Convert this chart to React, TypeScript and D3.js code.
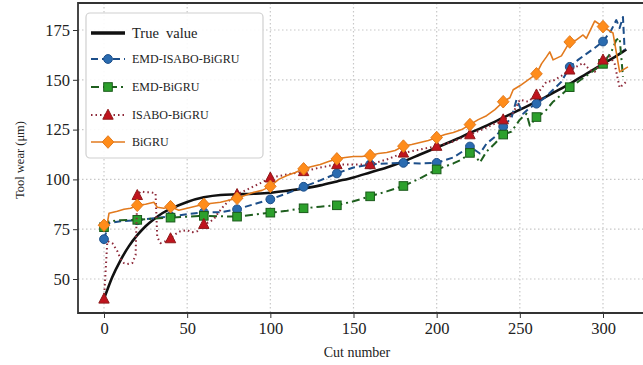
import React, { useEffect, useRef } from "react";
import * as d3 from "d3";

// ---- data ----
const xTicks = [0, 50, 100, 150, 200, 250, 300];
const yTicks = [50, 75, 100, 125, 150, 175];

const trueCuts = [0, 5, 10, 15, 20, 25, 30, 35, 40, 50, 60, 70, 80, 90, 100, 110, 120, 130, 140, 150, 160, 170, 180, 190, 200, 210, 220, 230, 240, 250, 260, 270, 280, 290, 300, 310, 314];
const trueVals = [40, 51, 59.5, 66.5, 72, 76.5, 80, 83, 85.2, 88.7, 91, 92.2, 92.5, 92.8, 93.3, 94.3, 95.5, 97, 99, 101, 103.5, 106, 109, 112.5, 116, 119.5, 123.3, 127, 131, 135, 139, 143.5, 148, 153, 158, 163, 165.3];

const emdIsaboCuts = [0, 3, 10, 20, 30, 40, 50, 60, 70, 80, 90, 100, 110, 120, 130, 140, 150, 160, 170, 180, 190, 200, 210, 220, 226, 230, 236, 240, 245, 248, 252, 256, 260, 265, 270, 275, 280, 285, 290, 295, 300, 305, 308, 310, 312, 313];
const emdIsaboVals = [70, 78, 79, 79.5, 80.5, 81.5, 82.5, 83.5, 83.5, 85, 87.5, 90, 93, 96.3, 99.5, 103, 106, 107.5, 108, 108.3, 108, 108.3, 111, 116.5, 113, 118, 122, 126.5, 131, 140, 133, 136, 138, 141, 145, 149, 156.5, 160, 163, 166, 169.2, 175, 180, 176, 181.5, 165];

const emdCuts = [0, 3, 10, 20, 30, 40, 50, 60, 70, 80, 90, 100, 110, 120, 130, 140, 150, 160, 170, 180, 190, 200, 210, 215, 220, 224, 226, 230, 235, 240, 245, 250, 254, 256, 260, 265, 270, 275, 280, 285, 290, 295, 300, 305, 308, 310, 312];
const emdVals = [76, 79, 79.5, 79.7, 80.3, 80.8, 81.3, 81.7, 81.5, 81.3, 82.3, 83.3, 84.3, 85.5, 86.3, 87, 89, 91.5, 94, 96.7, 100.5, 105, 108, 110, 113.3, 111, 108.5, 114, 118, 122.5, 124, 130, 133, 127, 131.3, 134, 139, 142.5, 146.3, 149, 152, 155, 158, 164, 170, 171, 151.5];

const isaboCuts = [0, 2, 5, 8, 10, 12, 14, 17, 19, 20, 22, 25, 28, 31, 32, 34, 37, 40, 43, 46, 50, 53, 56, 60, 63, 66, 68, 72, 76, 80, 85, 90, 95, 100, 110, 120, 130, 140, 150, 160, 170, 180, 190, 200, 210, 220, 230, 240, 245, 250, 255, 260, 266, 270, 275, 280, 285, 288, 292, 295, 300, 304, 307, 310, 314];
const isaboVals = [40, 69, 68, 64, 60, 58, 57.5, 58, 62, 92, 94, 93.5, 93.5, 93, 71, 68, 69, 70.3, 72.5, 74, 74.5, 73.5, 74, 77.5, 78.5, 80, 82.5, 86.7, 90, 92.5, 94.5, 96.5, 98.5, 100.8, 102.5, 104, 106, 107.5, 107.5, 107.5, 110, 113.3, 115, 116.7, 119, 122.5, 126, 130, 132, 140, 139, 142.5, 149, 149.5, 152, 155, 157, 158.5, 155, 154, 160, 162, 158, 146, 149];

const bigruCuts = [0, 2, 3, 8, 12, 16, 20, 25, 30, 32, 36, 40, 45, 50, 55, 60, 65, 70, 75, 80, 85, 90, 95, 100, 105, 110, 115, 120, 125, 130, 135, 140, 145, 150, 155, 160, 165, 170, 175, 180, 185, 190, 195, 200, 205, 210, 215, 220, 225, 230, 235, 240, 244, 246, 250, 255, 260, 263, 266, 268, 270, 275, 280, 284, 288, 290, 295, 300, 306, 310, 315];
const bigruVals = [77, 78, 83, 84, 85, 85.5, 87, 87.5, 88.5, 86, 85.5, 86.3, 84.5, 85.5, 86.5, 87.5, 88, 88.5, 89.5, 90.5, 92, 93.5, 94.5, 96.5, 100, 102, 103.5, 105.3, 106.5, 107.5, 109, 110.3, 111, 111.5, 111.5, 112, 113, 113.5, 114.5, 116.7, 117.5, 118.5, 119.5, 121, 122.5, 123.5, 125, 127.5, 130, 132, 135, 139, 141, 145, 147, 150, 153, 158, 161.5, 164, 160, 162, 169, 170, 172.5, 170.8, 179.5, 176.7, 173.5, 154, 156.5];

const seriesNames = ["True  value", "EMD-ISABO-BiGRU", "EMD-BiGRU", "ISABO-BiGRU", "BiGRU"];

const W = 643;
const H = 365;
const FONT = "'Liberation Serif', 'DejaVu Serif', serif";

type Style = {
  name: string;
  cuts: number[];
  vals: number[];
  stroke: string;
  width: number;
  dash: string | null;
  marker: "none" | "circle" | "square" | "triangle" | "diamond";
  fill: string;
  edge: string;
  smooth: boolean;
};

function App() {
  const svgRef = useRef<SVGSVGElement>(null);

  useEffect(() => {
    const svg = d3.select(svgRef.current);
    svg.selectAll("*").remove();

    const frame = { left: 78, top: 3, bottom: 313, right: 662 };

    const x = d3.scaleLinear().domain([0, 300]).range([104, 603]);
    const y = d3.scaleLinear().domain([50, 175]).range([279, 30]);

    svg.append("rect").attr("width", W).attr("height", H).attr("fill", "#fff");

    // grid
    const grid = svg.append("g");
    xTicks.forEach(t => {
      grid.append("line")
        .attr("x1", x(t)).attr("x2", x(t))
        .attr("y1", frame.top).attr("y2", frame.bottom)
        .attr("stroke", "#c8c8c8").attr("stroke-width", 1.2).attr("stroke-dasharray", "1.5,2.5");
    });
    yTicks.forEach(t => {
      grid.append("line")
        .attr("x1", frame.left).attr("x2", frame.right)
        .attr("y1", y(t)).attr("y2", y(t))
        .attr("stroke", "#c8c8c8").attr("stroke-width", 1.2).attr("stroke-dasharray", "1.5,2.5");
    });

    // axes
    const xAxis = svg.append("g")
      .attr("transform", `translate(0,${frame.bottom})`)
      .call(d3.axisBottom(x).tickValues(xTicks).tickSize(5).tickPadding(4));
    const yAxis = svg.append("g")
      .attr("transform", `translate(${frame.left},0)`)
      .call(d3.axisLeft(y).tickValues(yTicks).tickSize(5).tickPadding(3));
    [xAxis, yAxis].forEach(g => {
      g.select(".domain").remove();
      g.selectAll("line").attr("stroke", "#333");
      g.selectAll("text")
        .attr("font-family", FONT)
        .attr("font-size", 16.5)
        .attr("fill", "#222");
    });

    // lines + markers
    const styles: Style[] = [
      { name: seriesNames[0], cuts: trueCuts, vals: trueVals, stroke: "#111", width: 2.6, dash: null, marker: "none", fill: "", edge: "", smooth: true },
      { name: seriesNames[1], cuts: emdIsaboCuts, vals: emdIsaboVals, stroke: "#1d4f8a", width: 2, dash: "7,4", marker: "circle", fill: "#2a6bb0", edge: "#1d4f8a", smooth: false },
      { name: seriesNames[2], cuts: emdCuts, vals: emdVals, stroke: "#1f5f1f", width: 2, dash: "8,4,2,4", marker: "square", fill: "#2ca02c", edge: "#1a5a1a", smooth: false },
      { name: seriesNames[3], cuts: isaboCuts, vals: isaboVals, stroke: "#8e2a3a", width: 2, dash: "1.5,3", marker: "triangle", fill: "#c0141e", edge: "#8e1a1a", smooth: false },
      { name: seriesNames[4], cuts: bigruCuts, vals: bigruVals, stroke: "#e27a1e", width: 1.6, dash: null, marker: "diamond", fill: "#ff8c1a", edge: "#e27a1e", smooth: false },
    ];

    const line = d3.line<[number, number]>().x(d => x(d[0])).y(d => y(d[1]));
    const smoothLine = d3.line<[number, number]>().x(d => x(d[0])).y(d => y(d[1])).curve(d3.curveMonotoneX);

    const drawMarker = (g: any, kind: string, cx: number, cy: number, s: Style) => {
      if (kind === "circle") {
        g.append("circle").attr("cx", cx).attr("cy", cy).attr("r", 4.4)
          .attr("fill", s.fill).attr("stroke", s.edge).attr("stroke-width", 1);
      } else if (kind === "square") {
        g.append("rect").attr("x", cx - 4.3).attr("y", cy - 4.3).attr("width", 8.6).attr("height", 8.6)
          .attr("fill", s.fill).attr("stroke", s.edge).attr("stroke-width", 1);
      } else if (kind === "triangle") {
        g.append("path").attr("d", `M${cx},${cy - 5.8}L${cx + 5.2},${cy + 4.2}L${cx - 5.2},${cy + 4.2}Z`)
          .attr("fill", s.fill).attr("stroke", s.edge).attr("stroke-width", 1);
      } else if (kind === "diamond") {
        g.append("path").attr("d", `M${cx},${cy - 6.3}L${cx + 5.8},${cy}L${cx},${cy + 6.3}L${cx - 5.8},${cy}Z`)
          .attr("fill", s.fill).attr("stroke", s.edge).attr("stroke-width", 1);
      }
    };

    const plot = svg.append("g");
    styles.forEach(s => {
      const pts: [number, number][] = s.cuts.map((c, i) => [c, s.vals[i]]);
      plot.append("path")
        .attr("d", (s.smooth ? smoothLine : line)(pts))
        .attr("fill", "none")
        .attr("stroke", s.stroke)
        .attr("stroke-width", s.width)
        .attr("stroke-linejoin", "round")
        .attr("stroke-dasharray", s.dash);
      if (s.marker !== "none") {
        const mg = plot.append("g");
        pts.filter(p => p[0] % 20 === 0 && p[0] <= 300)
          .forEach(p => drawMarker(mg, s.marker, x(p[0]), y(p[1]), s));
      }
    });

    // frame
    svg.append("path")
      .attr("d", `M${frame.right},${frame.top}H${frame.left}V${frame.bottom}H${frame.right}`)
      .attr("fill", "none").attr("stroke", "#333").attr("stroke-width", 1.8);

    // axis labels
    svg.append("text")
      .attr("x", 357).attr("y", 357)
      .attr("text-anchor", "middle")
      .attr("font-family", FONT).attr("font-size", 14).attr("fill", "#222")
      .text("Cut number");
    svg.append("text")
      .attr("transform", `translate(24,${160}) rotate(-90)`)
      .attr("text-anchor", "middle")
      .attr("font-family", FONT).attr("font-size", 12.5).attr("fill", "#222")
      .text("Tool wear (\u03bcm)");

    // legend
    const lg = svg.append("g");
    lg.append("rect")
      .attr("x", 86).attr("y", 13).attr("width", 177).attr("height", 145).attr("rx", 4)
      .attr("fill", "#fff").attr("fill-opacity", 0.9)
      .attr("stroke", "#d0d0d0").attr("stroke-width", 1.2);
    const rowY = [33, 59, 87, 115, 142];
    styles.forEach((s, i) => {
      const ry = rowY[i];
      lg.append("line")
        .attr("x1", 91).attr("x2", 125).attr("y1", ry).attr("y2", ry)
        .attr("stroke", s.stroke).attr("stroke-width", s.width + (i === 0 ? 0.8 : 0))
        .attr("stroke-dasharray", s.dash);
      if (s.marker !== "none") drawMarker(lg, s.marker, 108, ry, s);
      lg.append("text")
        .attr("x", 132).attr("y", ry)
        .attr("dy", "0.35em")
        .attr("font-family", FONT)
        .attr("font-size", i === 0 ? 14.5 : 12)
        .attr("fill", "#222")
        .style("white-space", "pre")
        .text(s.name);
    });
  }, []);

  return (
    <svg
      ref={svgRef}
      width={W}
      height={H}
      style={{ position: "absolute", left: 0, top: 0, overflow: "hidden" }}
    ></svg>
  );
}

export default App;
